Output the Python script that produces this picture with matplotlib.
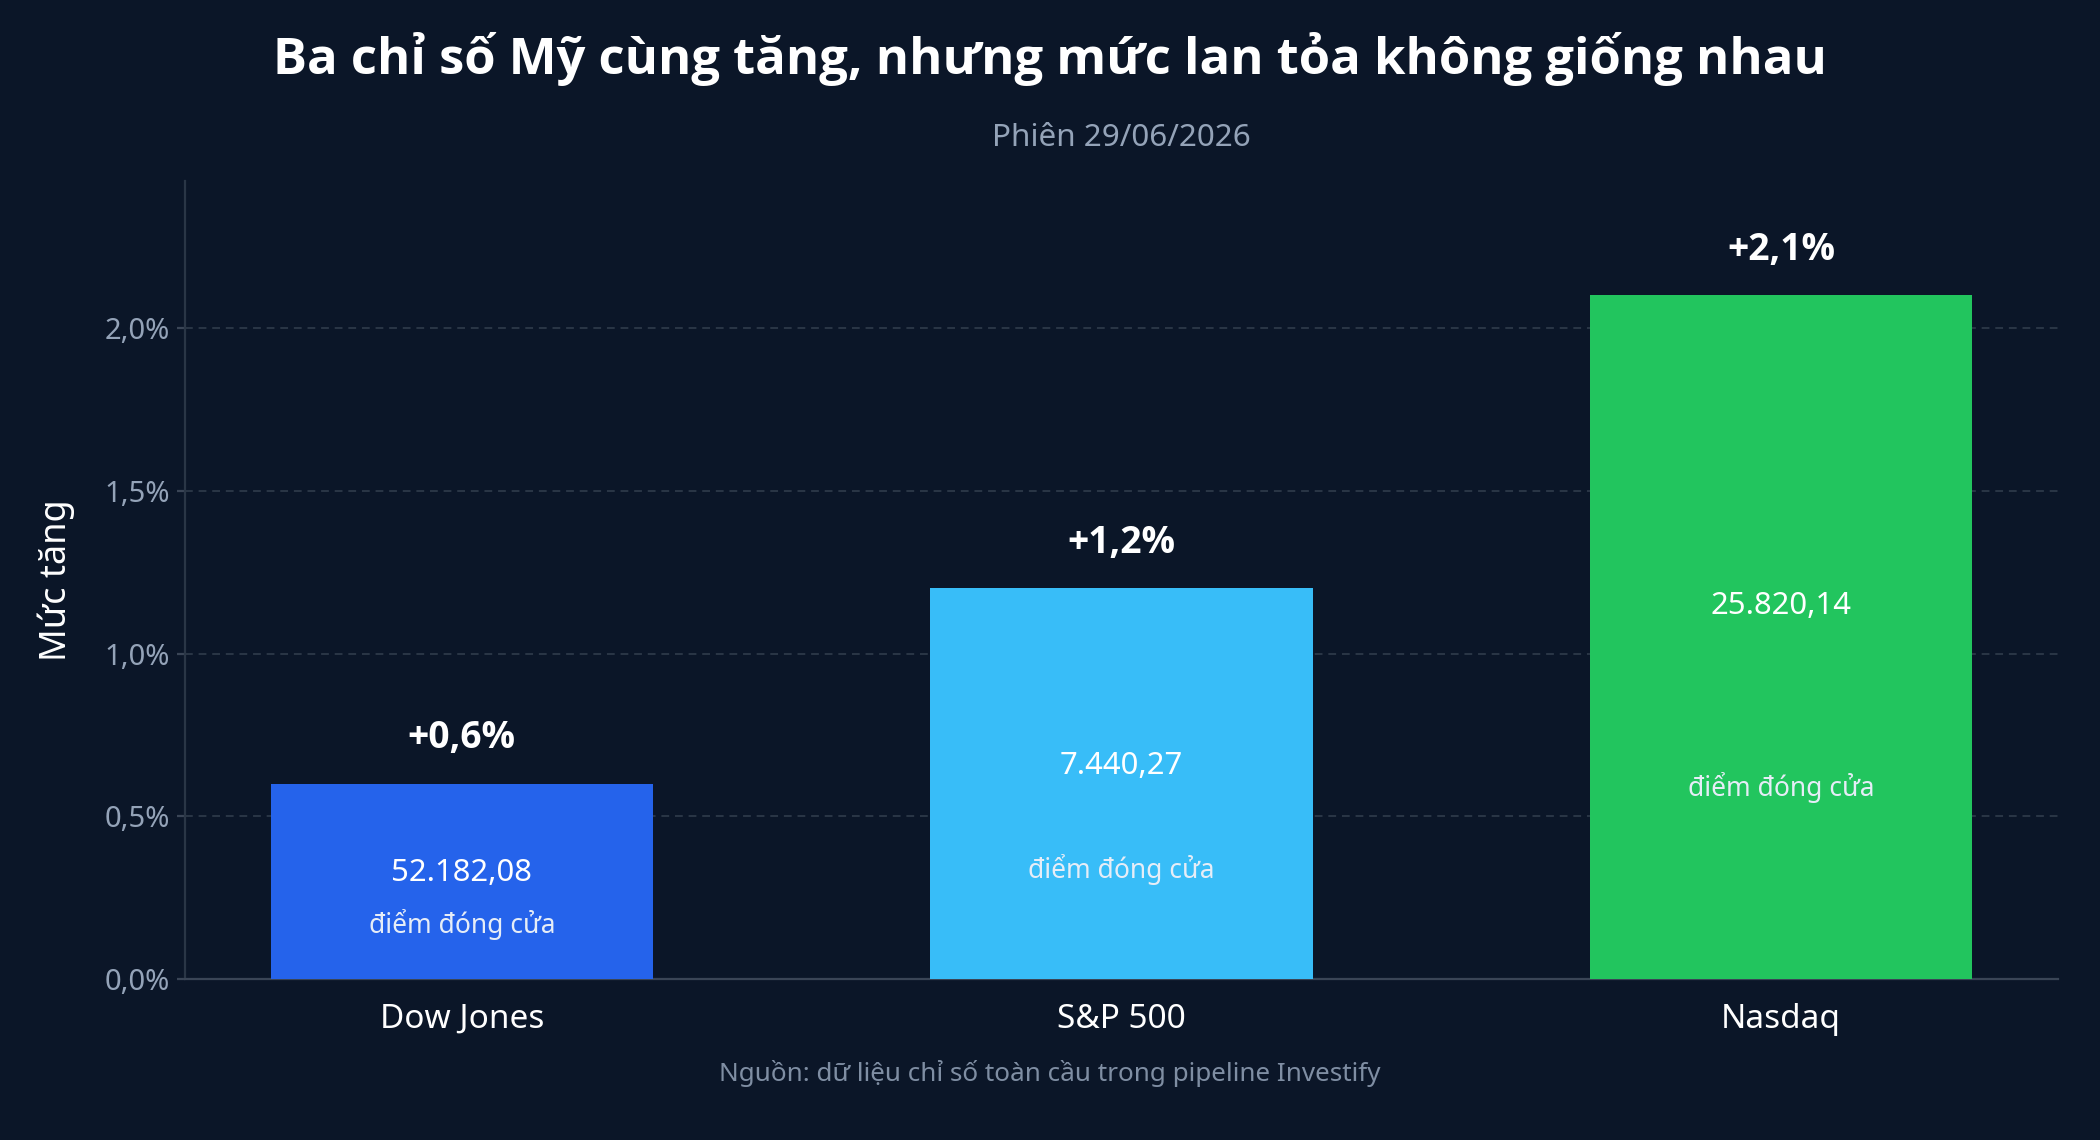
import matplotlib
matplotlib.use("Agg")
from matplotlib import pyplot as plt
from matplotlib.ticker import FuncFormatter

# data
indices = ["Dow Jones", "S&P 500", "Nasdaq"]
gains = [0.6, 1.2, 2.1]
closes = ["52.182,08", "7.440,27", "25.820,14"]
bar_colors = ["#2563eb", "#38bdf8", "#22c55e"]
y_ticks = [0.0, 0.5, 1.0, 1.5, 2.0]

bg = "#0b1628"
muted = "#94a3b8"
bold_family = ['Open Sans', 'Noto Sans', 'DejaVu Sans']

plt.rcParams['font.family'] = ['Noto Sans', 'DejaVu Sans']

fig = plt.figure(figsize=(10.5, 5.7), dpi=200, facecolor=bg)
ax = fig.add_axes([0.088, 0.141, 0.892, 0.700], facecolor=bg)

x = list(range(len(indices)))
ax.bar(x, gains, width=0.58, color=bar_colors, zorder=3)

for i, g in enumerate(gains):
    ax.text(i, g + 0.14, "+{0}%".format(str(g).replace(".", ",")),
            ha="center", va="center", color="white", fontsize=13.4,
            fontweight="bold", family=bold_family)
    ax.text(i, g * 0.545, closes[i], ha="center", va="center",
            color="white", fontsize=11.2)
    ax.text(i, g * 0.28, "điểm đóng cửa", ha="center", va="center",
            color="#e6edf7", fontsize=9.5)

ax.set_xlim(-0.42, 2.42)
ax.set_ylim(0, 2.45)
ax.set_yticks(y_ticks)
ax.yaxis.set_major_formatter(FuncFormatter(lambda v, p: "{0:.1f}%".format(v).replace(".", ",")))
ax.set_xticks(x)
ax.set_xticklabels(indices, fontsize=12, color="white")
ax.tick_params(axis="y", colors=muted, labelsize=10.5, length=3, pad=2.5, color="#3a4556")
ax.tick_params(axis="x", length=0, pad=8.5)
for lbl in ax.get_yticklabels():
    lbl.set_color(muted)

ax.grid(axis="y", linestyle=(0, (4, 3)), color="#2a3646", linewidth=0.7, zorder=0)
for side in ["top", "right"]:
    ax.spines[side].set_visible(False)
ax.spines["left"].set_color("#2a3646")
ax.spines["bottom"].set_color("#3a4556")

fig.text(0.027, 0.491, "Mức tăng", rotation=90, ha="center", va="center",
         color="white", fontsize=13)

fig.text(0.5, 0.948, "Ba chỉ số Mỹ cùng tăng, nhưng mức lan tỏa không giống nhau",
         ha="center", va="center", color="white", fontsize=18.25,
         fontweight="bold", family=bold_family)
fig.text(0.534, 0.879, "Phiên 29/06/2026", ha="center", va="center",
         color=muted, fontsize=11.3)
fig.text(0.5, 0.058, "Nguồn: dữ liệu chỉ số toàn cầu trong pipeline Investify",
         ha="center", va="center", color="#7f8ea3", fontsize=9.4)

fig.savefig("out.png", dpi=200, facecolor=bg)
